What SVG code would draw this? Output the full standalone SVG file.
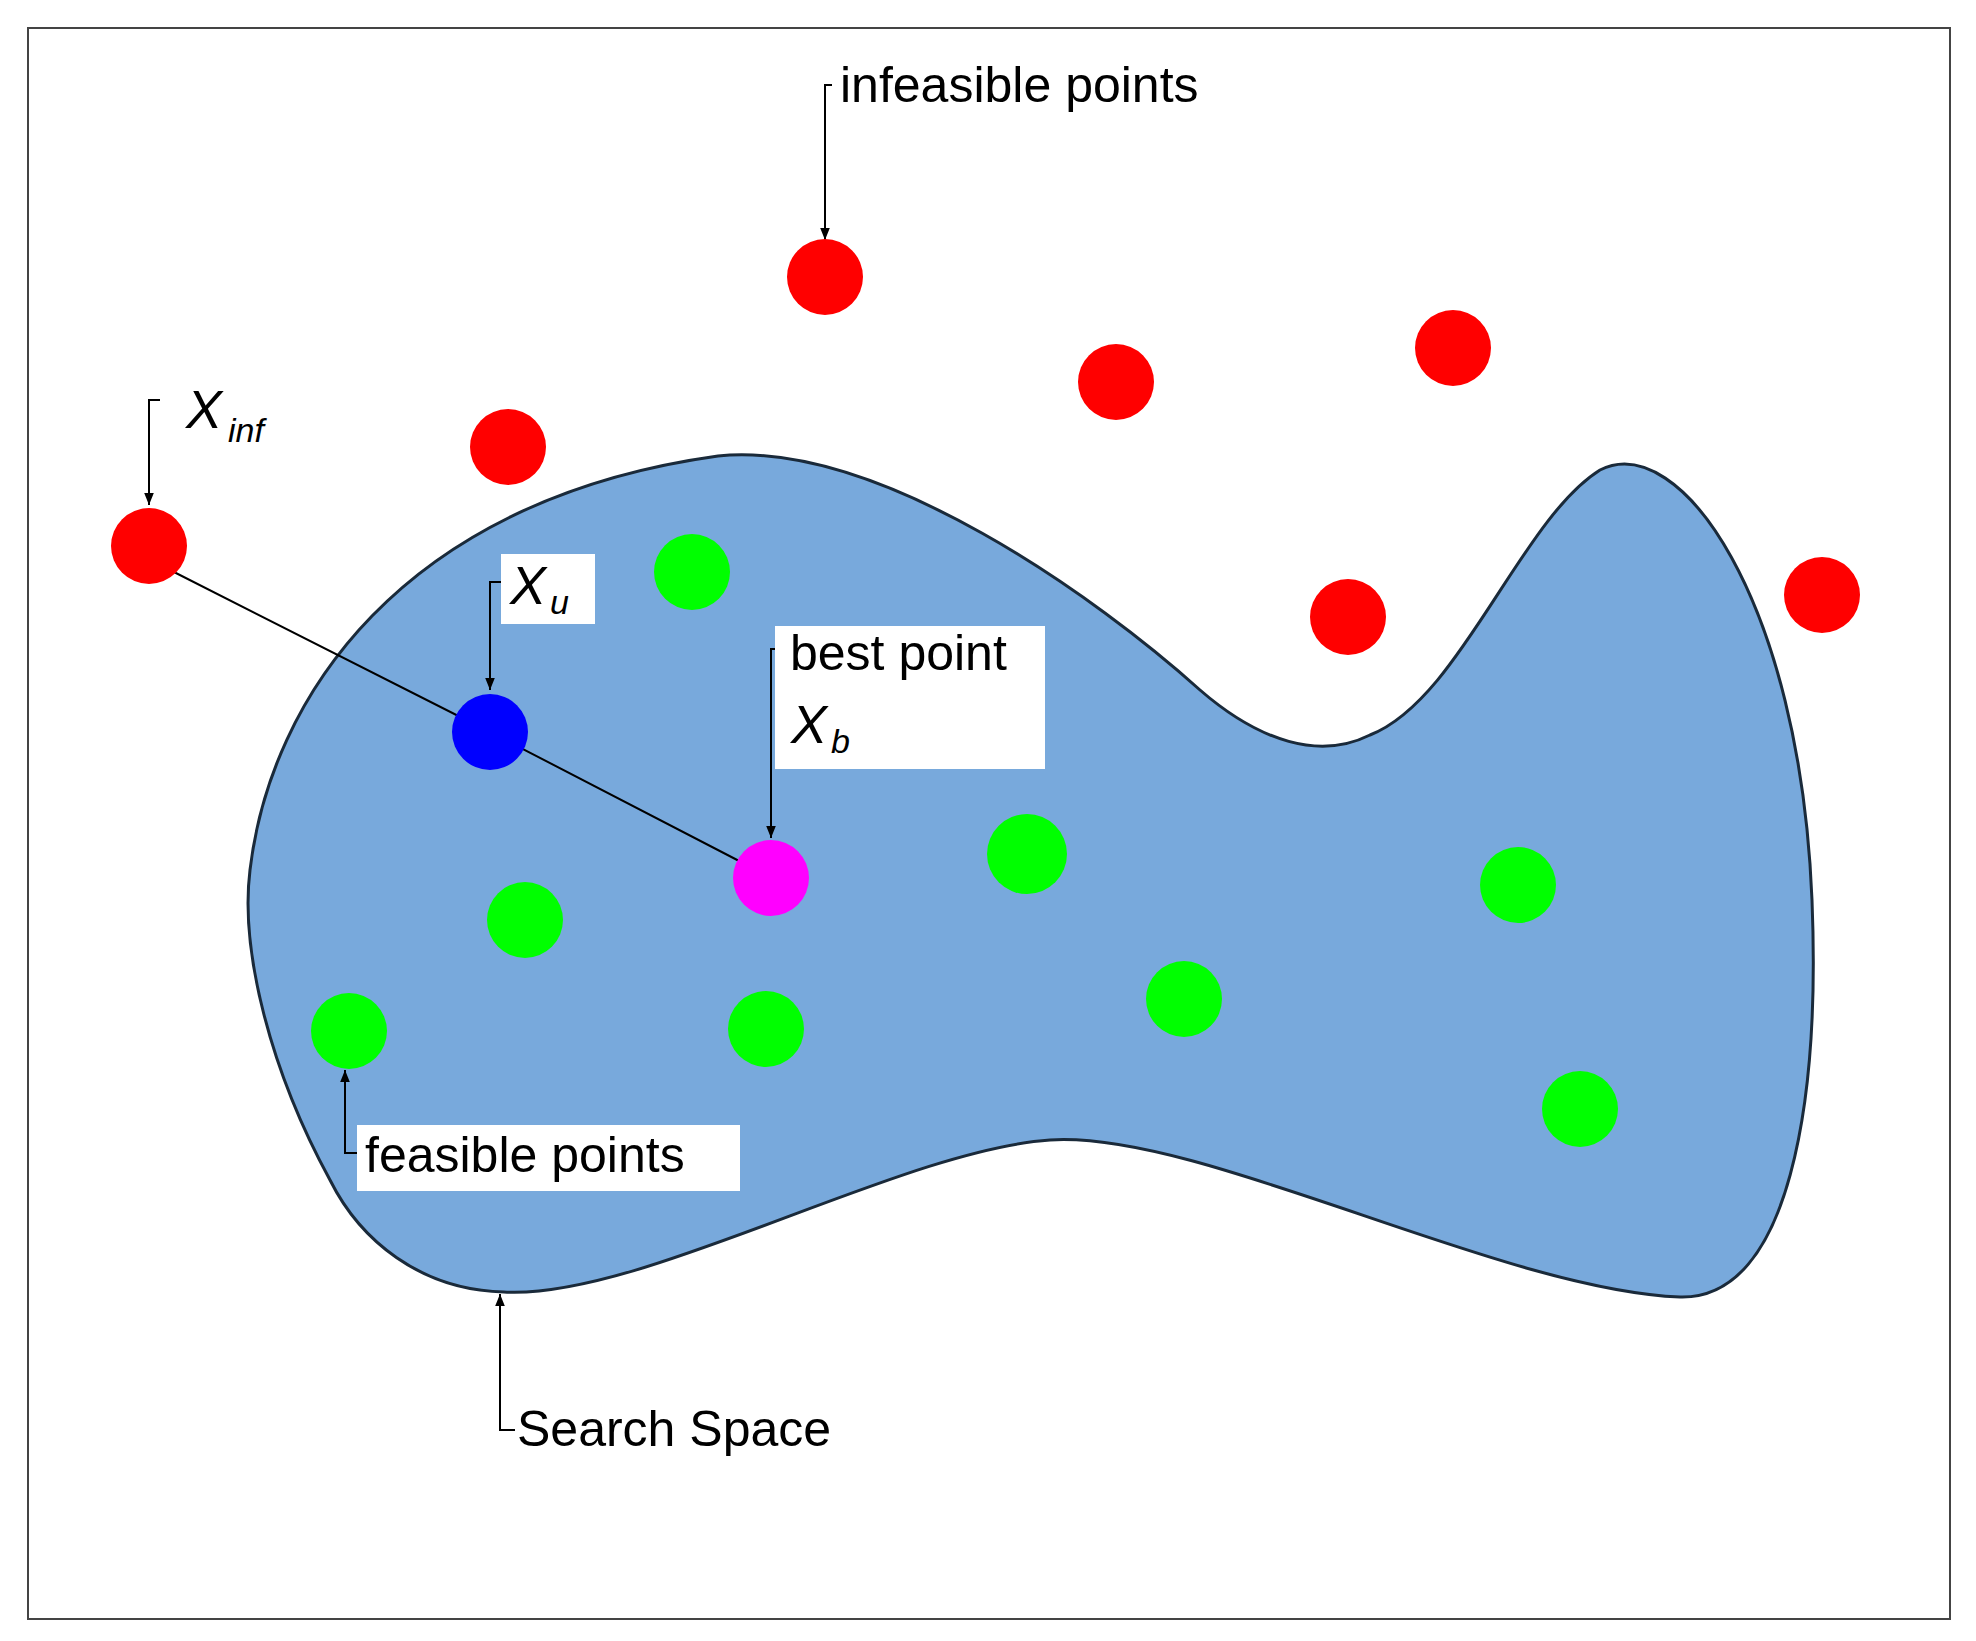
<svg xmlns="http://www.w3.org/2000/svg" width="1976" height="1641" viewBox="0 0 1976 1641">
<style>
.lbl{font-family:"Liberation Sans",Arial,sans-serif;font-size:50px;fill:#000}
.it{font-family:"Liberation Sans",Arial,sans-serif;font-style:italic;font-size:54px;fill:#000}
.sub{font-size:34px}
.ld{stroke:#000;stroke-width:2;fill:none}
.red{fill:#f00}.grn{fill:#0f0}
</style>
<defs><marker id="ar" viewBox="0 0 10 10" refX="10" refY="5" markerWidth="8" markerHeight="10" markerUnits="userSpaceOnUse" orient="auto"><path d="M0,1 L10,5 L0,9 Z" fill="#000"/></marker>
<marker id="a2" viewBox="0 0 10 10" refX="10" refY="5" markerWidth="18" markerHeight="12" markerUnits="userSpaceOnUse" orient="auto"><path d="M0,1 L10,5 L0,9 Z" fill="#000"/></marker></defs>
<rect x="0" y="0" width="1976" height="1641" fill="#fff"/>
<rect x="28" y="28" width="1922" height="1591" fill="none" stroke="#444" stroke-width="2"/>
<g id="space"><path d="M718,456 C880,440 1100,600 1200,690 C1260,742 1320,760 1370,735 C1460,700 1520,520 1600,470 C1680,430 1800,600 1812,900 C1820,1100 1790,1300 1680,1297 C1500,1290 1200,1130 1050,1140 C900,1150 640,1300 504,1292 C420,1290 360,1240 330,1180 C270,1070 240,950 250,870 C270,700 400,500 718,456 Z" fill="#78a9dc" stroke="#1a2a3a" stroke-width="3"/></g>
<g id="connectors">
<polyline class="ld" points="170,570 490,732 743,863"/>
<path class="ld" d="M832,85 H825 V240" marker-end="url(#a2)"/>
<path class="ld" d="M160,400 H149 V505" marker-end="url(#a2)"/>
<path class="ld" d="M505,582 H490 V690" marker-end="url(#a2)"/>
<path class="ld" d="M786,649 H771 V838" marker-end="url(#a2)"/>
<path class="ld" d="M360,1153 H345 V1070" marker-end="url(#a2)"/>
<path class="ld" d="M515,1430 H500 V1294" marker-end="url(#a2)"/>
</g>
<g id="infeasible">
<circle class="red" cx="825" cy="277" r="38"/><circle class="red" cx="1116" cy="382" r="38"/><circle class="red" cx="1453" cy="348" r="38"/><circle class="red" cx="508" cy="447" r="38"/><circle class="red" cx="149" cy="546" r="38"/><circle class="red" cx="1348" cy="617" r="38"/><circle class="red" cx="1822" cy="595" r="38"/>
</g>
<g id="feasible">
<circle class="grn" cx="692" cy="572" r="38"/><circle class="grn" cx="1027" cy="854" r="40"/><circle class="grn" cx="1518" cy="885" r="38"/><circle class="grn" cx="525" cy="920" r="38"/><circle class="grn" cx="1184" cy="999" r="38"/><circle class="grn" cx="349" cy="1031" r="38"/><circle class="grn" cx="766" cy="1029" r="38"/><circle class="grn" cx="1580" cy="1109" r="38"/>
</g>
<g id="xu"><circle cx="490" cy="732" r="38" fill="#00f"/></g>
<g id="xb"><circle cx="771" cy="878" r="38" fill="#f0f"/></g>
<g id="label-infeasible"><text class="lbl" x="840" y="102">infeasible points</text></g>
<g id="label-xinf"><text class="it" x="186" y="428">X<tspan class="sub" dx="6" dy="14">inf</tspan></text></g>
<g id="label-xu"><rect x="501" y="554" width="94" height="70" fill="#fff"/><text class="it" x="510" y="604">X<tspan class="sub" dx="4" dy="10">u</tspan></text></g>
<g id="label-best"><rect x="775" y="626" width="270" height="143" fill="#fff"/><text class="lbl" x="790" y="670">best point</text><text class="it" x="791" y="743">X<tspan class="sub" dx="4" dy="10">b</tspan></text></g>
<g id="label-feasible"><rect x="357" y="1125" width="383" height="66" fill="#fff"/><text class="lbl" x="365" y="1172">feasible points</text></g>
<g id="label-search"><text class="lbl" x="517" y="1446">Search Space</text></g>
</svg>
